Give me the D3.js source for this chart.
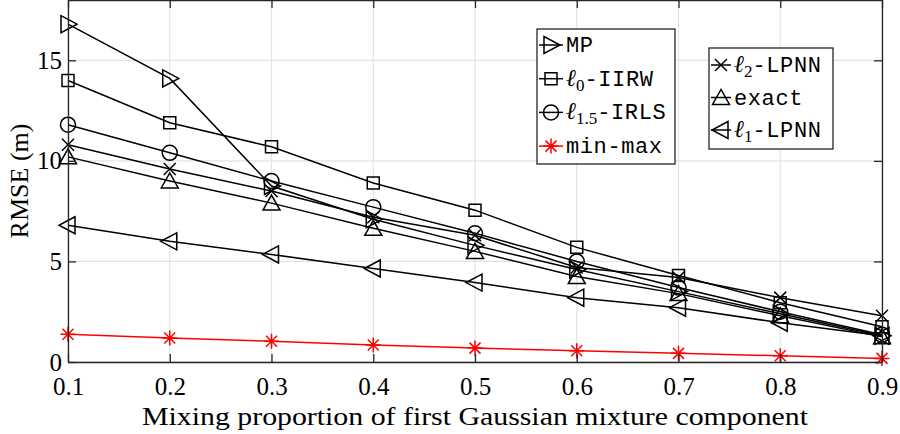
<!DOCTYPE html>
<html>
<head>
<meta charset="utf-8">
<script src="https://cdn.jsdelivr.net/npm/d3@7"></script>
<style>
  body { margin: 0; background: #fff; }
  svg { display: block; }
</style>
</head>
<body>
<svg id="chart"></svg>
<script>
// RMSE vs mixing proportion, seven localisation methods

const mixProps = [0.1, 0.2, 0.3, 0.4, 0.5, 0.6, 0.7, 0.8, 0.9];
const mpVals     = [16.8, 14.1, 8.75, 7.1, 5.8, 4.6, 3.5, 2.4, 1.3];
const iirwVals   = [14.0, 11.9, 10.7, 8.9, 7.55, 5.7, 4.3, 2.95, 1.75];
const irlsVals   = [11.8, 10.4, 9.0, 7.7, 6.4, 5.0, 3.7, 2.5, 1.35];
const minmaxVals = [1.38, 1.19, 1.03, 0.85, 0.69, 0.56, 0.43, 0.31, 0.18];
const l2Vals     = [10.8, 9.6, 8.5, 7.2, 6.3, 4.7, 4.2, 3.2, 2.3];
const exactVals  = [10.2, 9.0, 7.9, 6.65, 5.5, 4.25, 3.4, 2.3, 1.25];
const l1Vals     = [6.8, 6.0, 5.35, 4.65, 3.95, 3.2, 2.7, 1.95, 1.3];

const xTicks = [0.1, 0.2, 0.3, 0.4, 0.5, 0.6, 0.7, 0.8, 0.9];
const yTicks = [0, 5, 10, 15];

// label parts: [prefix, subscript, rest]
const series = [
  { vals: mpVals,     marker: "right",  color: "#000", label: ["", "", "MP"] },
  { vals: iirwVals,   marker: "square", color: "#000", label: ["\u2113", "0", "-IIRW"] },
  { vals: irlsVals,   marker: "circle", color: "#000", label: ["\u2113", "1.5", "-IRLS"] },
  { vals: minmaxVals, marker: "star",   color: "#ff0000", label: ["", "", "min-max"] },
  { vals: l2Vals,     marker: "cross",  color: "#000", label: ["\u2113", "2", "-LPNN"] },
  { vals: exactVals,  marker: "up",     color: "#000", label: ["", "", "exact"] },
  { vals: l1Vals,     marker: "left",   color: "#000", label: ["\u2113", "1", "-LPNN"] }
];

const width = 900, height = 434;
const margin = { left: 68, right: 18, top: 0, bottom: 72 };

const svg = d3.select("#chart").attr("width", width).attr("height", height);

const x = d3.scaleLinear().domain([0.1, 0.9]).range([margin.left, width - margin.right]);
const y = d3.scaleLinear().domain([0, 18]).range([height - margin.bottom, margin.top]);

const serif = "'Liberation Serif', 'DejaVu Serif', serif";
const mono = "'Liberation Mono', 'DejaVu Sans Mono', monospace";

// grid
svg.append("g").selectAll("line.vg").data(xTicks).enter().append("line")
  .attr("x1", d => x(d)).attr("x2", d => x(d))
  .attr("y1", y(0)).attr("y2", y(18))
  .attr("stroke", "#e3e3e3").attr("stroke-width", 1.2);
svg.append("g").selectAll("line.hg").data(yTicks).enter().append("line")
  .attr("x1", x(0.1)).attr("x2", x(0.9))
  .attr("y1", d => y(d)).attr("y2", d => y(d))
  .attr("stroke", "#e3e3e3").attr("stroke-width", 1.2);

function markerPath(type) {
  switch (type) {
    case "right":  return "M-7,-8.5L9,0L-7,8.5Z";
    case "left":   return "M7,-8.5L-9,0L7,8.5Z";
    case "up":     return "M-8.5,7L0,-8L8.5,7Z";
    case "square": return "M-6,-6H6V6H-6Z";
    case "circle": return "M7.5,0A7.5,7.5 0 1,1 -7.5,0A7.5,7.5 0 1,1 7.5,0Z";
    case "cross":  return "M-6,-6L6,6M-6,6L6,-6";
    case "star":   return "M0,-7.5V7.5M-7.5,0H7.5M-5.5,-5.5L5.5,5.5M-5.5,5.5L5.5,-5.5";
  }
}

const line = d3.line().x((d, i) => x(mixProps[i])).y(d => y(d));

const plot = svg.append("g");
series.forEach(s => {
  plot.append("path")
    .attr("d", line(s.vals))
    .attr("fill", "none")
    .attr("stroke", s.color)
    .attr("stroke-width", 1.5);
  plot.selectAll(null).data(s.vals).enter().append("path")
    .attr("transform", (d, i) => `translate(${x(mixProps[i])},${y(d)})`)
    .attr("d", markerPath(s.marker))
    .attr("fill", "none")
    .attr("stroke", s.color)
    .attr("stroke-width", 1.5);
});

// axes box
const axisColor = "#262626";
const xAxisB = d3.axisBottom(x).tickValues(xTicks).tickSizeInner(-8).tickSizeOuter(0).tickFormat(d3.format(".1f"));
const xAxisT = d3.axisTop(x).tickValues(xTicks).tickSizeInner(-8).tickSizeOuter(0).tickFormat("");
const yAxisL = d3.axisLeft(y).tickValues(yTicks).tickSizeInner(-8).tickSizeOuter(0);
const yAxisR = d3.axisRight(y).tickValues(yTicks).tickSizeInner(-8).tickSizeOuter(0).tickFormat("");

function styleAxis(g) {
  g.attr("font-family", serif).attr("font-size", 25);
  g.select(".domain").attr("stroke", axisColor).attr("stroke-width", 1.3);
  g.selectAll(".tick line").attr("stroke", axisColor).attr("stroke-width", 1.3);
  g.selectAll(".tick text").attr("fill", "#000")
    .style("font-family", serif).style("font-size", "25px");
}

svg.append("g").attr("transform", `translate(0,${y(0)})`).call(xAxisB).call(styleAxis)
  .selectAll(".tick text").attr("dy", "0.71em").attr("y", 15);
svg.append("g").attr("transform", `translate(0,${y(18)})`).call(xAxisT).call(styleAxis);
svg.append("g").attr("transform", `translate(${x(0.1)},0)`).call(yAxisL).call(styleAxis)
  .selectAll(".tick text").attr("x", -6);
svg.append("g").attr("transform", `translate(${x(0.9)},0)`).call(yAxisR).call(styleAxis);

// axis titles
svg.append("text")
  .attr("x", (x(0.1) + x(0.9)) / 2).attr("y", 425)
  .attr("text-anchor", "middle")
  .attr("font-family", serif).attr("font-size", 26)
  .attr("textLength", 666).attr("lengthAdjust", "spacingAndGlyphs")
  .text("Mixing proportion of first Gaussian mixture component");
svg.append("text")
  .attr("transform", `translate(28,${y(9)}) rotate(-90)`)
  .attr("text-anchor", "middle")
  .attr("font-family", serif).attr("font-size", 26)
  .text("RMSE (m)");

// legends
function drawLegend(items, box) {
  const g = svg.append("g");
  g.append("rect")
    .attr("x", box.x).attr("y", box.y).attr("width", box.w).attr("height", box.h)
    .attr("fill", "#fff").attr("stroke", axisColor).attr("stroke-width", 1.3);
  items.forEach((s, i) => {
    const cy = box.y + box.first + i * box.step;
    g.append("line")
      .attr("x1", box.x + 2).attr("x2", box.x + 2 + box.lineLen)
      .attr("y1", cy).attr("y2", cy)
      .attr("stroke", s.color).attr("stroke-width", 1.5);
    g.append("path")
      .attr("transform", `translate(${box.x + 2 + box.lineLen / 2},${cy})`)
      .attr("d", markerPath(s.marker))
      .attr("fill", "none").attr("stroke", s.color).attr("stroke-width", 1.5);
    const t = g.append("text")
      .attr("x", box.x + box.lineLen + 5).attr("y", cy + 7)
      .attr("font-size", 22).attr("fill", "#000");
    if (s.label[0]) {
      t.append("tspan").attr("font-family", serif).attr("font-style", "italic").attr("font-size", 24).text(s.label[0]);
      t.append("tspan").attr("font-family", serif).attr("font-size", 17).attr("dy", 5).text(s.label[1]);
      t.append("tspan").attr("font-family", mono).attr("dy", -5).attr("letter-spacing", 0.6).text(s.label[2]);
    } else {
      t.append("tspan").attr("font-family", mono).attr("letter-spacing", 0.6).text(s.label[2]);
    }
  });
}

drawLegend(series.slice(0, 4), { x: 537, y: 29, w: 138, h: 135, first: 16, step: 33.7, lineLen: 24 });
drawLegend(series.slice(4), { x: 709, y: 48, w: 124, h: 101, first: 17, step: 32.5, lineLen: 20 });
</script>
</body>
</html>
